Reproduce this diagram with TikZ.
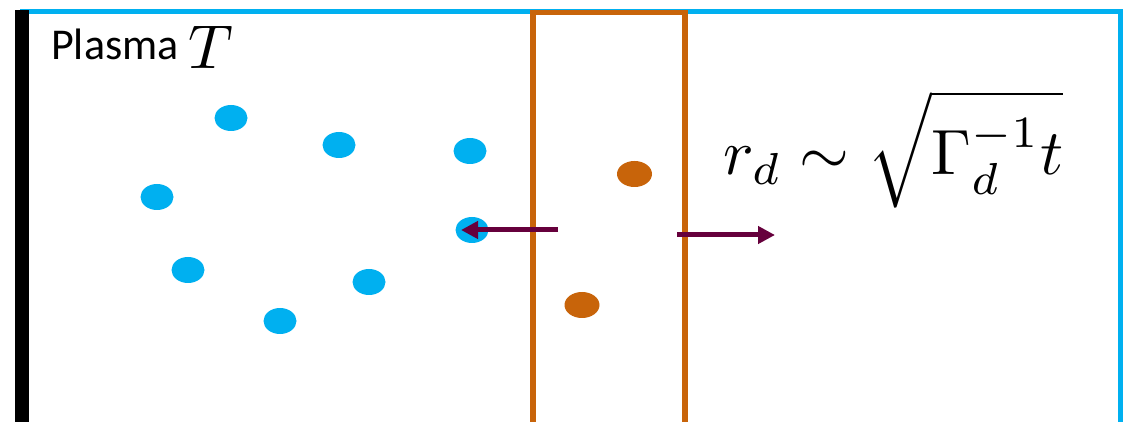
\documentclass[tikz,border=0pt]{standalone}
\usepackage{amsmath}
\usepackage{fontspec}
\setsansfont{Carlito}
\usetikzlibrary{arrows.meta,shapes.geometric}
\definecolor{skyb}{RGB}{0,176,240}
\definecolor{rust}{RGB}{200,100,10}
\definecolor{plum}{RGB}{102,0,60}
\tikzset{
  bluedot/.style={ellipse,fill=skyb,minimum width=33pt,minimum height=26pt,inner sep=0pt},
  orangedot/.style={ellipse,fill=rust,minimum width=35pt,minimum height=26pt,inner sep=0pt},
  flux/.style={draw=plum,line width=5pt,-{Triangle[length=17pt,width=17pt]}}
}
\begin{document}
\begin{tikzpicture}[x=1pt,y=-1pt]
\useasboundingbox (0,0) rectangle (1128,422);
% frame
\draw[skyb,line width=5pt] (20,11.5) -- (1120,11.5) -- (1120,422);
\fill[black] (14.5,10) rectangle (28.5,422);
% slab
\draw[rust,line width=5.5pt] (533,422) -- (533,12.5) -- (685,12.5) -- (685,422);
% label
\node[anchor=base west,inner sep=0pt,font=\sffamily\fontsize{44}{48}\selectfont] (plasma) at (51,60) {Plasma};
\node[anchor=base west,inner sep=0pt,scale=6.2] (temp) at (187,69) {$T$};
% dots
\node[bluedot] (b1) at (231,118) {};
\node[bluedot] (b2) at (339,145) {};
\node[bluedot] (b3) at (470,151) {};
\node[bluedot] (b4) at (157,197) {};
\node[bluedot] (b5) at (472,230) {};
\node[bluedot] (b6) at (188,270) {};
\node[bluedot] (b7) at (369,282) {};
\node[bluedot] (b8) at (280,321) {};
\node[orangedot] (o1) at (634.5,174) {};
\node[orangedot] (o2) at (582,305) {};
% arrows
\coordinate (la) at (558,230);
\coordinate (lt) at (461,230);
\coordinate (ra) at (677,235);
\coordinate (rb) at (775,235);
\draw[flux] (la) -- (lt);
\draw[flux] (ra) -- (rb);
% formula
\node[anchor=base west,inner sep=0pt,scale=6.4] (form) at (722,175) {$\displaystyle r_d\sim\sqrt{\Gamma_d^{-1}t}$};
\end{tikzpicture}
\end{document}
